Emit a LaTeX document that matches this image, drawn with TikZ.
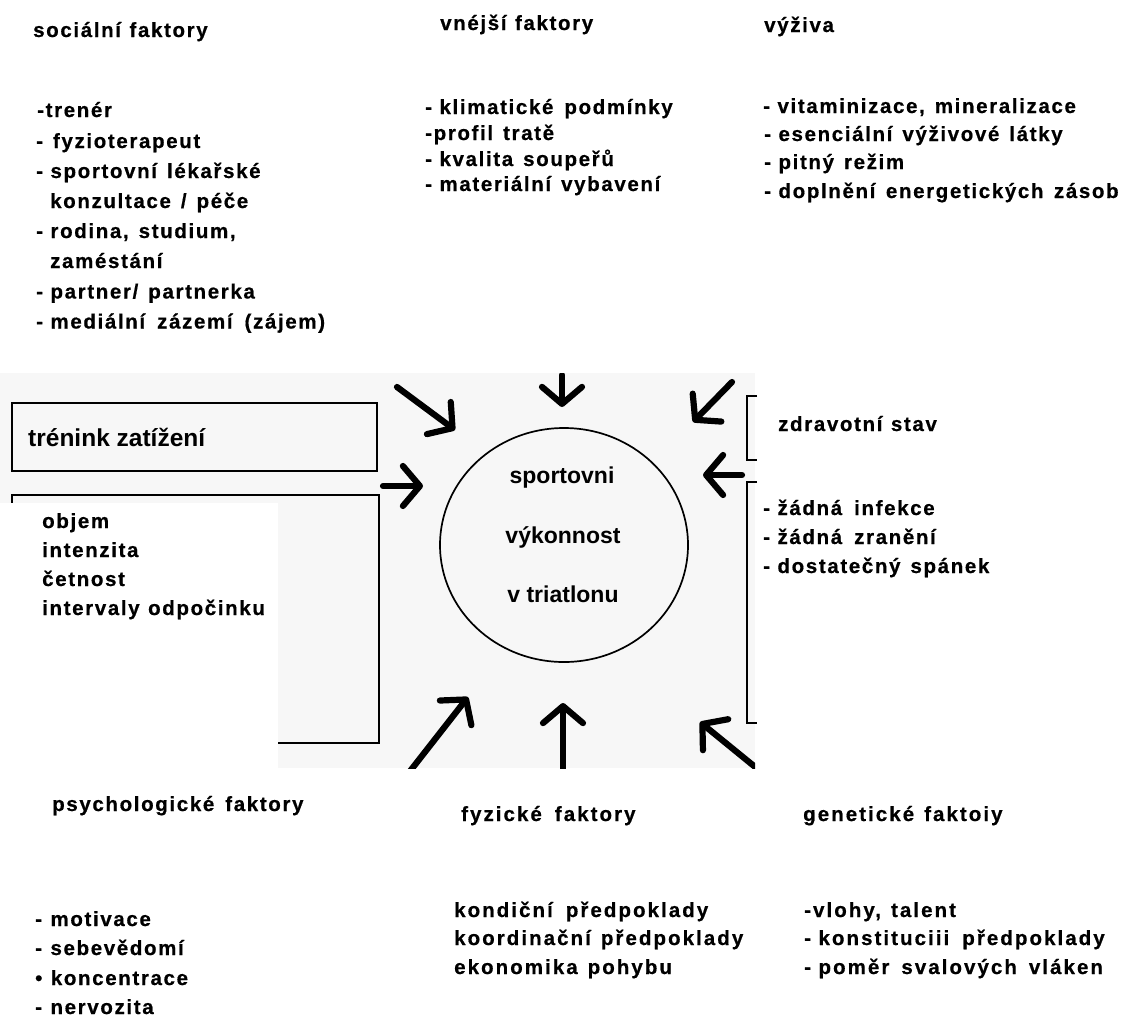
\documentclass[tikz,border=0pt]{standalone}
\usepackage{fontspec}
\setmainfont{Liberation Sans}
\newfontfamily\labfont{Liberation Sans}[LetterSpace=8,FakeBold=0.6]
\newfontfamily\labfontb{Liberation Sans}[LetterSpace=10,FakeBold=0.6]
\usetikzlibrary{arrows.meta,shapes.geometric}
\def\labws{8.5pt}
\newcommand\dsh{-\hspace{7.5pt}}
\tikzset{
  ws/.code={\def\labws{#1}},
  lab/.style={anchor=base west, inner sep=0pt, font=\labfont\bfseries\fontsize{20.5}{24}\selectfont,
    execute at begin node={\spaceskip=\labws\relax}},
  labb/.style={anchor=base west, inner sep=0pt, font=\labfontb\bfseries\fontsize{20.5}{24}\selectfont,
    execute at begin node={\spaceskip=\labws\relax}},
  scantext/.style={anchor=base, inner sep=0pt, font=\bfseries\fontsize{23}{26}\selectfont},
  boxline/.style={line width=2.6pt},
  bigarrow/.style={line width=6.2pt, line cap=round, -{Straight Barb[length=17pt,width=40pt,round]}},
}
\begin{document}
\begin{tikzpicture}[x=1pt,y=-1pt]
\useasboundingbox (0,0) rectangle (1126,1021);
% scanned area background
\fill[black!3] (0,373) rectangle (755,768);
\fill[white] (0,503) rectangle (278,768);

% social factors
\node[lab] (sh) at (33,37) {sociální faktory};
\node[lab] (s1) at (37,117) {-trenér};
\node[lab,ws=10pt] (s2) at (36,148) {- fyzioterapeut};
\node[lab,ws=10pt] (s3) at (36,178) {\dsh sportovní lékařské};
\node[lab,ws=10pt] (s4) at (50,208) {konzultace / péče};
\node[lab,ws=10pt] (s5) at (36,238) {\dsh rodina, studium,};
\node[lab] (s6) at (50,268) {zaméstání};
\node[lab,ws=10pt] (s7) at (36,298.5) {\dsh partner/ partnerka};
\node[lab,ws=12pt] (s8) at (36,328.5) {\dsh mediální zázemí (zájem)};

% external factors
\node[lab] (vh) at (440,30) {vnéjší faktory};
\node[lab,ws=11pt] (v1) at (425,114) {\dsh klimatické podmínky};
\node[lab,ws=10pt] (v2) at (425,140) {-profil tratě};
\node[lab,ws=10pt] (v3) at (425,166) {\dsh kvalita soupeřů};
\node[lab,ws=10pt] (v4) at (425,191) {\dsh materiální vybavení};

% nutrition
\node[lab] (yh) at (764,32) {výživa};
\node[lab,ws=10pt] (y1) at (763,113) {\dsh vitaminizace, mineralizace};
\node[lab,ws=10pt] (y2) at (764,141) {\dsh esenciální výživové látky};
\node[lab,ws=10pt] (y3) at (764,169) {\dsh pitný režim};
\node[lab,ws=10.5pt] (y4) at (764,198) {\dsh doplnění energetických zásob};

% training boxes
\draw[boxline] (12,403) rectangle (377,471);
\node[anchor=base west, inner sep=0pt, font=\bfseries\fontsize{24.5}{28}\selectfont] (tz) at (28,446) {trénink zatížení};
\draw[boxline] (278,743) -- (379,743) -- (379,495) -- (12,495) -- (12,503);
\node[lab] (o1) at (42,528) {objem};
\node[lab] (o2) at (42,557) {intenzita};
\node[lab] (o3) at (42,586) {četnost};
\node[lab] (o4) at (42,615) {intervaly odpočinku};

% health
\draw[boxline] (757,396) -- (747,396) -- (747,460) -- (757,460);
\draw[boxline] (757,482) -- (747,482) -- (747,723) -- (757,723);
\node[lab] (zs) at (778,431) {zdravotní stav};
\node[lab,ws=12pt] (z1) at (763,515) {\dsh žádná infekce};
\node[lab,ws=12pt] (z2) at (763,544) {\dsh žádná zranění};
\node[lab,ws=10pt] (z3) at (763,573) {\dsh dostatečný spánek};

% central circle
\node[draw, ellipse, line width=1.7pt, minimum width=248, minimum height=234, inner sep=0pt] (perf) at (564,545) {};
\node[scantext] (c1) at (562,483) {sportovni};
\node[scantext] (c2) at (563,543) {výkonnost};
\node[scantext] (c3) at (563,602) {v triatlonu};

% arrows
\coordinate (t1) at (397,387); \coordinate (h1) at (455,430);
\coordinate (t2) at (562,375); \coordinate (h2) at (562,407);
\coordinate (t3) at (732,382); \coordinate (h3) at (693,422);
\coordinate (t4) at (383,486); \coordinate (h4) at (423,486);
\coordinate (t5) at (742,475); \coordinate (h5) at (703,475);
\coordinate (t6) at (407,775); \coordinate (h6) at (468,697);
\coordinate (t7) at (563,775); \coordinate (h7) at (563,703);
\coordinate (t8) at (765,775); \coordinate (h8) at (700,722);
\begin{scope}
\clip (0,373) rectangle (755,768);
\draw[bigarrow] (t1) -- (h1);
\draw[bigarrow] (t2) -- (h2);
\draw[bigarrow] (t3) -- (h3);
\draw[bigarrow] (t4) -- (h4);
\draw[bigarrow] (t5) -- (h5);
\draw[bigarrow] (t6) -- (h6);
\draw[bigarrow] (t7) -- (h7);
\draw[bigarrow] (t8) -- (h8);
\end{scope}

% psychological
\node[lab,ws=11pt] (ph) at (52,811) {psychologické faktory};
\node[lab] (p1) at (35,926) {- motivace};
\node[lab] (p2) at (35,955) {- sebevědomí};
\node[lab] (p3) at (35,985) {• koncentrace};
\node[lab] (p4) at (35,1014) {- nervozita};

% physical
\node[labb,ws=13pt] (fh) at (461,821) {fyzické faktory};
\node[labb,ws=13pt] (f1) at (454,917) {kondiční předpoklady};
\node[labb,ws=10pt] (f2) at (454,945) {koordinační předpoklady};
\node[labb,ws=10pt] (f3) at (454,974) {ekonomika pohybu};

% genetic
\node[labb,ws=10pt] (gh) at (803,821) {genetické faktoiy};
\node[labb,ws=10pt] (g1) at (804,917) {-vlohy, talent};
\node[labb,ws=13pt] (g2) at (804,945) {\dsh konstituciii předpoklady};
\node[labb,ws=12pt] (g3) at (804,974) {\dsh poměr svalových vláken};
\end{tikzpicture}
\end{document}
